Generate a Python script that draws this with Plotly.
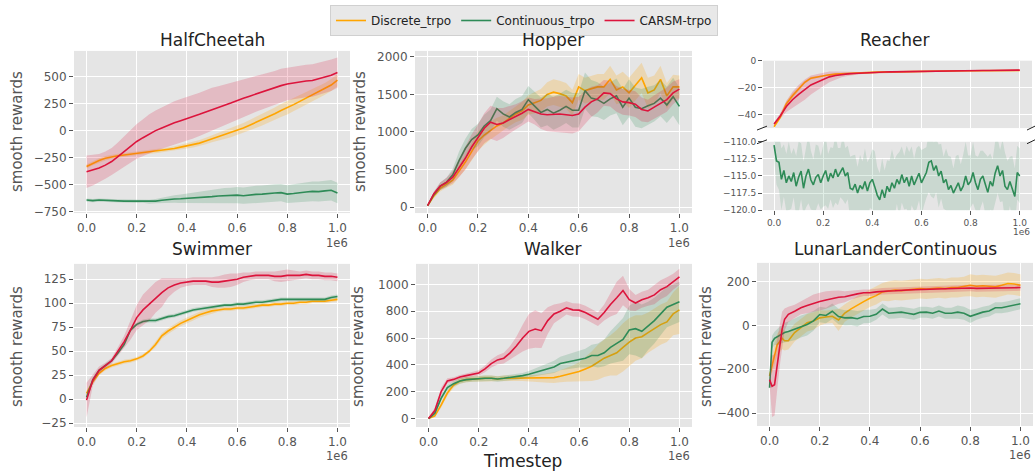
import plotly.graph_objects as go

# ---------------- data (timesteps in units of 1e6) ----------------
X41 = [0.0, 0.025, 0.05, 0.075, 0.1, 0.125, 0.15, 0.175, 0.2, 0.225, 0.25, 0.275, 0.3, 0.325,
       0.35, 0.375, 0.4, 0.425, 0.45, 0.475, 0.5, 0.525, 0.55, 0.575, 0.6, 0.625, 0.65, 0.675,
       0.7, 0.725, 0.75, 0.775, 0.8, 0.825, 0.85, 0.875, 0.9, 0.925, 0.95, 0.975, 1.0]

X101 = [0.0, 0.01, 0.02, 0.03, 0.04, 0.05, 0.06, 0.07, 0.08, 0.09, 0.1, 0.11, 0.12, 0.13, 0.14,
        0.15, 0.16, 0.17, 0.18, 0.19, 0.2, 0.21, 0.22, 0.23, 0.24, 0.25, 0.26, 0.27, 0.28, 0.29,
        0.3, 0.31, 0.32, 0.33, 0.34, 0.35, 0.36, 0.37, 0.38, 0.39, 0.4, 0.41, 0.42, 0.43, 0.44,
        0.45, 0.46, 0.47, 0.48, 0.49, 0.5, 0.51, 0.52, 0.53, 0.54, 0.55, 0.56, 0.57, 0.58, 0.59,
        0.6, 0.61, 0.62, 0.63, 0.64, 0.65, 0.66, 0.67, 0.68, 0.69, 0.7, 0.71, 0.72, 0.73, 0.74,
        0.75, 0.76, 0.77, 0.78, 0.79, 0.8, 0.81, 0.82, 0.83, 0.84, 0.85, 0.86, 0.87, 0.88, 0.89,
        0.9, 0.91, 0.92, 0.93, 0.94, 0.95, 0.96, 0.97, 0.98, 0.99, 1.0]

LL_X = [0.0, 0.01, 0.02, 0.03, 0.04, 0.05, 0.06, 0.075, 0.1, 0.125, 0.15, 0.175, 0.2, 0.225,
        0.25, 0.275, 0.3, 0.325, 0.35, 0.375, 0.4, 0.425, 0.45, 0.475, 0.5, 0.525, 0.55, 0.575,
        0.6, 0.625, 0.65, 0.675, 0.7, 0.725, 0.75, 0.775, 0.8, 0.825, 0.85, 0.875, 0.9, 0.925,
        0.95, 0.975, 1.0]

SERIES_NAMES = ["Discrete_trpo", "Continuous_trpo", "CARSM-trpo"]
COLORS = ["#FFA500", "#2E8B57", "#DC143C"]
BANDS = ["rgba(255,165,0,0.22)", "rgba(46,139,87,0.2)", "rgba(220,20,60,0.2)"]

# HalfCheetah
HC_disc = [-330, -300, -275, -255, -240, -232, -225, -218, -210, -202, -195, -190, -185, -175,
           -165, -152, -140, -130, -115, -95, -75, -55, -40, -20, 0, 25, 50, 75, 100, 125, 155,
           185, 210, 240, 270, 300, 325, 355, 385, 420, 465]
HC_disc_sd = [20, 20, 20, 20, 18, 18, 18, 18, 18, 18, 18, 18, 20, 20, 22, 22, 25, 25, 28, 30,
              32, 35, 38, 40, 42, 45, 48, 50, 52, 55, 58, 60, 62, 62, 62, 60, 58, 55, 55, 55, 55]
HC_cont = [-640, -645, -640, -645, -645, -648, -650, -650, -652, -650, -655, -650, -642, -635,
           -630, -628, -625, -620, -618, -612, -608, -602, -600, -598, -595, -600, -592, -588,
           -585, -578, -575, -572, -585, -580, -570, -565, -560, -562, -555, -550, -575]
HC_cont_sd = [15, 15, 15, 15, 15, 15, 15, 15, 15, 15, 18, 20, 25, 30, 35, 40, 45, 50, 55, 60,
              65, 68, 70, 72, 75, 75, 78, 80, 80, 80, 80, 80, 82, 85, 85, 88, 90, 92, 95, 95, 95]
HC_carsm = [-380, -365, -345, -318, -285, -240, -195, -145, -100, -65, -30, 0, 25, 50, 72, 92,
            110, 128, 150, 172, 195, 215, 235, 255, 280, 298, 318, 338, 355, 375, 395, 415, 430,
            440, 450, 458, 462, 475, 495, 510, 535]
HC_carsm_sd = [150, 140, 130, 125, 125, 130, 140, 150, 160, 170, 180, 185, 190, 195, 200, 200,
               200, 200, 200, 200, 200, 195, 190, 185, 180, 175, 170, 165, 160, 155, 155, 155,
               150, 150, 150, 150, 150, 150, 150, 145, 140]

# Hopper
HOP_disc = [20, 150, 250, 310, 360, 480, 600, 740, 880, 960, 1020, 1080, 1120, 1180, 1240, 1280,
            1360, 1390, 1420, 1500, 1530, 1510, 1480, 1390, 1600, 1550, 1570, 1600, 1600, 1700,
            1560, 1600, 1520, 1620, 1720, 1520, 1560, 1700, 1480, 1600, 1600]
HOP_disc_sd = [10, 30, 40, 50, 60, 80, 100, 120, 130, 130, 120, 110, 100, 100, 110, 120, 130,
               140, 150, 160, 170, 170, 170, 170, 170, 170, 170, 170, 170, 180, 190, 200, 200,
               200, 200, 200, 190, 180, 170, 160, 150]
HOP_cont = [20, 170, 280, 330, 430, 620, 780, 900, 960, 1080, 1150, 1310, 1240, 1200, 1260, 1300,
            1430, 1350, 1260, 1300, 1250, 1290, 1340, 1290, 1290, 1550, 1450, 1430, 1380, 1440,
            1480, 1330, 1450, 1330, 1310, 1350, 1380, 1450, 1360, 1470, 1340]
HOP_cont_sd = [10, 30, 50, 60, 80, 120, 130, 140, 150, 150, 150, 160, 170, 170, 180, 180, 180,
               190, 200, 210, 220, 220, 220, 230, 230, 240, 240, 230, 220, 220, 230, 240, 250,
               260, 260, 250, 240, 240, 240, 250, 250]
HOP_carsm = [20, 180, 280, 330, 400, 520, 650, 800, 920, 1050, 1130, 1100, 1120, 1160, 1200,
             1250, 1300, 1270, 1240, 1230, 1240, 1240, 1230, 1220, 1240, 1330, 1400, 1440, 1520,
             1510, 1440, 1400, 1390, 1370, 1300, 1280, 1330, 1380, 1430, 1520, 1570]
HOP_carsm_sd = [10, 30, 50, 60, 80, 120, 150, 170, 180, 200, 220, 220, 200, 180, 170, 160, 160,
                170, 200, 220, 230, 240, 240, 240, 230, 220, 200, 180, 170, 170, 170, 170, 170,
                170, 160, 150, 160, 160, 160, 150, 130]

# Reacher (upper panel: discrete & CARSM; lower panel: continuous)
REA_disc = [-49, -42, -32, -26, -21, -16, -13, -12, -11, -10.5, -10, -9.7, -9.5, -9.3, -9.1,
            -8.9, -8.7, -8.5, -8.4, -8.3, -8.2, -8.1, -8.0, -8.0, -7.9, -7.8, -7.8, -7.7, -7.7,
            -7.6, -7.6, -7.5, -7.5, -7.5, -7.4, -7.4, -7.4, -7.3, -7.3, -7.3, -7.3]
REA_disc_sd = [1, 1.5, 2, 2, 1.5, 1.2, 1, 0.8, 0.6, 0.5, 0.5, 0.5, 0.5, 0.5, 0.5, 0.5, 0.5, 0.5,
               0.5, 0.5, 0.5, 0.5, 0.5, 0.5, 0.5, 0.5, 0.5, 0.5, 0.5, 0.5, 0.5, 0.5, 0.5, 0.5,
               0.5, 0.5, 0.5, 0.5, 0.5, 0.5, 0.5]
REA_carsm = [-47, -41, -34, -29, -25, -21.5, -18, -16, -14, -12, -11, -10.2, -9.8, -9.5, -9.2,
             -9.0, -8.7, -8.5, -8.4, -8.3, -8.2, -8.1, -8.0, -8.0, -7.9, -7.8, -7.8, -7.7, -7.6,
             -7.6, -7.5, -7.5, -7.4, -7.4, -7.3, -7.3, -7.2, -7.2, -7.1, -7.1, -7.0]
REA_carsm_sd = [1, 2, 4, 6, 7, 7.5, 7, 6, 5, 4, 3, 2, 1.5, 1, 0.8, 0.7, 0.6, 0.5, 0.5, 0.5, 0.5,
                0.5, 0.5, 0.5, 0.5, 0.5, 0.5, 0.5, 0.5, 0.5, 0.5, 0.5, 0.5, 0.5, 0.5, 0.5, 0.5,
                0.5, 0.5, 0.5, 0.5]
REA_cont = [-110.5, -112.8, -113.0, -115.5, -114.2, -116.0, -115.0, -115.8, -114.5, -116.5,
            -115.2, -114.3, -116.8, -115.0, -114.0, -115.6, -116.3, -115.2, -114.8, -116.0,
            -115.0, -114.2, -115.8, -114.6, -115.3, -114.0, -115.1, -114.5, -113.8, -115.0,
            -114.5, -116.8, -117.0, -116.2, -117.5, -116.4, -116.9, -115.8, -117.2, -116.0,
            -115.5, -116.6, -117.8, -118.5, -117.0, -118.2, -116.5, -117.3, -116.0, -116.8,
            -115.5, -116.2, -114.8, -116.0, -115.2, -116.5, -115.0, -116.3, -115.4, -114.6,
            -116.0, -115.2, -114.5, -113.0, -112.8, -114.2, -113.5, -115.0, -114.3, -116.0,
            -115.5, -117.0, -116.4, -117.5, -116.8, -116.0, -117.2, -116.5, -115.0, -116.3,
            -115.8, -114.5, -116.0, -117.0, -115.5, -115.0, -116.2, -117.4, -115.8, -116.5,
            -114.6, -113.5, -115.0, -114.2, -116.5, -117.0, -115.8, -116.8, -118.0, -114.5,
            -115.0]
REA_cont_sd = [2.0, 3.5, 4.0, 4.5, 3.8, 4.2, 5.0, 4.0, 3.6, 4.4, 5.2, 4.1, 3.9, 4.6, 5.0, 4.3,
               3.7, 4.8, 4.2, 3.9, 4.5, 5.1, 4.0, 3.8, 4.4, 4.9, 4.2, 3.6, 4.7, 4.1, 3.9, 4.6,
               5.0, 4.3, 3.8, 4.5, 4.0, 4.8, 4.2, 3.7, 4.4, 5.2, 4.1, 3.9, 4.6, 4.0, 3.8, 4.5,
               4.9, 4.2, 3.6, 4.7, 4.1, 3.9, 4.6, 5.0, 4.3, 3.8, 4.5, 4.0, 4.8, 4.2, 3.7, 4.4,
               5.2, 4.1, 3.9, 4.6, 4.0, 3.8, 4.5, 4.9, 4.2, 3.6, 4.7, 4.1, 3.9, 4.6, 5.0, 4.3,
               3.8, 4.5, 4.0, 4.8, 4.2, 3.7, 4.4, 5.2, 4.1, 3.9, 4.6, 4.0, 3.8, 4.5, 4.9, 4.2,
               3.6, 4.7, 4.1, 3.9, 4.0]

# Swimmer
SW_disc = [6, 18, 27, 32, 35, 37, 39, 40, 42, 45, 50, 57, 66, 71, 75, 79, 82, 85, 88, 90, 92,
           93, 94, 94, 95, 95, 96, 97, 98, 98, 99, 99, 100, 100, 101, 101, 102, 102, 102, 103, 104]
SW_disc_sd = [3, 2, 2, 2, 2, 2, 2, 2, 2, 2, 2, 3, 3, 3, 3, 3, 3, 3, 3, 3, 3, 2, 2, 2, 2, 2, 2,
              2, 2, 2, 2, 2, 2, 2, 2, 2, 2, 2, 2, 2, 2]
SW_cont = [2, 20, 30, 35, 40, 48, 57, 72, 78, 81, 82, 82, 84, 86, 87, 89, 91, 93, 94, 95, 96, 97,
           98, 98, 99, 99, 100, 101, 101, 102, 103, 104, 104, 104, 104, 104, 104, 104, 104, 106,
           107]
SW_cont_sd = [4, 3, 2, 2, 2, 2, 2, 2, 2, 2, 2, 2, 2, 2, 2, 2, 2, 2, 2, 2, 2, 2, 2, 2, 2, 2, 2,
              2, 2, 2, 2, 2, 2, 2, 2, 2, 2, 2, 2, 2, 2]
SW_carsm = [-1, 20, 30, 35, 40, 50, 60, 72, 85, 93, 99, 106, 111, 116, 119, 121, 122, 123, 123,
            123, 122, 122, 123, 124, 125, 127, 128, 129, 129, 129, 128, 128, 129, 129, 129, 130,
            129, 129, 128, 128, 127]
SW_carsm_sd = [18, 6, 4, 3, 3, 4, 6, 10, 13, 16, 17, 16, 15, 10, 7, 5, 4, 4, 4, 4, 5, 6, 7, 7,
               6, 5, 4, 4, 4, 4, 5, 6, 6, 5, 4, 4, 4, 4, 4, 4, 4]

# Walker
WK_disc = [0, 20, 100, 190, 250, 280, 290, 295, 300, 300, 300, 295, 300, 300, 300, 300, 300,
           300, 300, 302, 305, 315, 325, 335, 350, 370, 390, 420, 450, 470, 490, 530, 570, 600,
           610, 640, 670, 700, 720, 780, 810]
WK_disc_sd = [3, 10, 20, 20, 20, 20, 20, 20, 20, 20, 20, 20, 20, 20, 20, 20, 20, 25, 30, 35, 40,
              45, 50, 60, 70, 90, 110, 130, 140, 150, 170, 180, 180, 170, 160, 150, 150, 150,
              150, 160, 180]
WK_cont = [0, 40, 150, 230, 260, 280, 290, 295, 300, 300, 300, 295, 300, 305, 310, 320, 330, 345,
           360, 375, 385, 410, 420, 430, 440, 450, 470, 470, 490, 530, 560, 590, 660, 670, 650,
           690, 730, 780, 830, 850, 870]
WK_cont_sd = [3, 15, 20, 20, 20, 20, 20, 20, 20, 20, 20, 20, 20, 20, 20, 20, 25, 30, 35, 40, 45,
              50, 55, 55, 60, 70, 80, 90, 100, 120, 140, 160, 180, 200, 200, 180, 170, 160, 150,
              150, 150]
WK_carsm = [0, 60, 200, 280, 292, 310, 320, 330, 340, 370, 410, 437, 450, 490, 540, 600, 650,
            667, 655, 730, 780, 800, 825, 810, 808, 790, 765, 740, 790, 850, 900, 954, 886, 861,
            886, 900, 922, 960, 983, 1020, 1056]
WK_carsm_sd = [5, 20, 30, 20, 15, 15, 15, 18, 20, 25, 30, 35, 40, 50, 70, 100, 130, 140, 130,
               100, 70, 60, 50, 50, 50, 50, 50, 50, 60, 90, 120, 110, 80, 60, 60, 60, 70, 70, 70,
               60, 60]

# LunarLanderContinuous
LL_disc = [-230, -180, -130, -90, -75, -59, -70, -70, -33, -10, 12, 20, 34, 38, 41, 24, 56, 75,
           93, 108, 123, 135, 152, 155, 160, 158, 160, 163, 167, 165, 168, 170, 167, 172, 172,
           176, 182, 178, 180, 178, 175, 182, 190, 188, 182]
LL_disc_sd = [20, 40, 50, 50, 50, 50, 45, 40, 40, 40, 40, 40, 35, 30, 30, 50, 40, 40, 40, 40,
              40, 40, 40, 45, 45, 45, 45, 45, 45, 45, 45, 45, 45, 45, 45, 45, 50, 50, 50, 50, 50,
              50, 50, 50, 50]
LL_cont = [-284, -77, -59, -52, -47, -40, -33, -28, -18, -5, 4, 20, 49, 45, 64, 40, 34, 35, 30,
           40, 41, 50, 74, 55, 56, 60, 55, 50, 59, 60, 55, 65, 55, 55, 60, 55, 41, 50, 60, 65,
           80, 80, 85, 90, 98]
LL_cont_sd = [15, 30, 30, 35, 40, 40, 45, 45, 50, 50, 50, 45, 35, 35, 35, 35, 35, 35, 35, 30,
              30, 25, 25, 25, 25, 25, 25, 25, 25, 25, 25, 25, 25, 25, 30, 30, 30, 25, 25, 25, 25,
              25, 25, 25, 25]
LL_carsm = [-247, -277, -270, -180, -92, -18, 27, 50, 64, 80, 90, 100, 108, 115, 122, 128, 130,
            138, 143, 148, 148, 152, 155, 156, 157, 160, 161, 162, 163, 164, 165, 165, 166, 167,
            167, 168, 170, 168, 168, 169, 170, 170, 170, 171, 172]
LL_carsm_sd = [20, 140, 140, 120, 100, 80, 50, 35, 30, 30, 35, 40, 40, 40, 35, 30, 25, 20, 18,
               15, 15, 15, 15, 15, 15, 15, 15, 15, 15, 15, 15, 15, 15, 15, 15, 15, 15, 15, 15, 15,
               15, 15, 15, 15, 15]

X_TICKS = [0.0, 0.2, 0.4, 0.6, 0.8, 1.0]
HC_TICKS = [-750, -500, -250, 0, 250, 500]
HOP_TICKS = [0, 500, 1000, 1500, 2000]
REA_TOP_TICKS = [-40, -20, 0]
REA_BOT_TICKS = [-120, -117.5, -115, -112.5, -110]
SW_TICKS = [-25, 0, 25, 50, 75, 100, 125]
WK_TICKS = [0, 200, 400, 600, 800, 1000]
LL_TICKS = [-400, -200, 0, 200]

# ---------------- figure ----------------
W, H = 1035, 475
FONT = "DejaVu Sans"
TICKC = "#555555"


def fx(p):
    return p / W


def fy(p):
    return 1 - p / H


fig = go.Figure()


def add_series(xs, mean, sd, idx, ax, ay, legend=False, band=None):
    up = [m + s for m, s in zip(mean, sd)]
    lo = [m - s for m, s in zip(mean, sd)]
    fig.add_trace(go.Scatter(
        x=list(xs) + list(xs)[::-1], y=up + lo[::-1], fill="toself",
        fillcolor=band or BANDS[idx], line=dict(width=0), mode="lines",
        hoverinfo="skip", showlegend=False, xaxis=ax, yaxis=ay))
    fig.add_trace(go.Scatter(
        x=xs, y=mean, mode="lines", name=SERIES_NAMES[idx],
        line=dict(color=COLORS[idx], width=1.6), showlegend=legend,
        xaxis=ax, yaxis=ay))


# HalfCheetah
add_series(X41, HC_disc, HC_disc_sd, 0, "x", "y", legend=True)
add_series(X41, HC_cont, HC_cont_sd, 1, "x", "y", legend=True)
add_series(X41, HC_carsm, HC_carsm_sd, 2, "x", "y", legend=True)
# Hopper
add_series(X41, HOP_disc, HOP_disc_sd, 0, "x2", "y2")
add_series(X41, HOP_cont, HOP_cont_sd, 1, "x2", "y2")
add_series(X41, HOP_carsm, HOP_carsm_sd, 2, "x2", "y2")
# Reacher
add_series(X41, REA_disc, REA_disc_sd, 0, "x3", "y3")
add_series(X41, REA_carsm, REA_carsm_sd, 2, "x3", "y3")
add_series(X101, REA_cont, REA_cont_sd, 1, "x4", "y4", band="rgba(46,139,87,0.15)")
# Swimmer
add_series(X41, SW_disc, SW_disc_sd, 0, "x5", "y5")
add_series(X41, SW_cont, SW_cont_sd, 1, "x5", "y5")
add_series(X41, SW_carsm, SW_carsm_sd, 2, "x5", "y5")
# Walker
add_series(X41, WK_disc, WK_disc_sd, 0, "x6", "y6")
add_series(X41, WK_cont, WK_cont_sd, 1, "x6", "y6")
add_series(X41, WK_carsm, WK_carsm_sd, 2, "x6", "y6")
# LunarLander
add_series(LL_X, LL_disc, LL_disc_sd, 0, "x7", "y7")
add_series(LL_X, LL_cont, LL_cont_sd, 1, "x7", "y7")
add_series(LL_X, LL_carsm, LL_carsm_sd, 2, "x7", "y7")


def xax(l, r, anchor, labels=True, size=12, rng=(-0.05, 1.05)):
    return dict(domain=[fx(l), fx(r)], anchor=anchor, range=list(rng), tickvals=X_TICKS,
                tickformat=".1f", ticks="outside" if labels else "", ticklen=4,
                tickcolor=TICKC, tickfont=dict(family=FONT, size=size, color=TICKC),
                showticklabels=labels, showgrid=True, gridcolor="white", gridwidth=1,
                zeroline=False, showline=False)


def yax(t, b, anchor, rng, ticks, size=12, fmt=None):
    d = dict(domain=[fy(b), fy(t)], anchor=anchor, range=list(rng), tickvals=ticks,
             ticks="outside", ticklen=4, tickcolor=TICKC,
             tickfont=dict(family=FONT, size=size, color=TICKC), showgrid=True,
             gridcolor="white", gridwidth=1, zeroline=False, showline=False)
    if fmt:
        d["tickformat"] = fmt
    return d


layout = dict(
    width=W, height=H, margin=dict(l=0, r=0, t=0, b=0),
    paper_bgcolor="white", plot_bgcolor="#E5E5E5",
    font=dict(family=FONT, color="#222222"),
    xaxis=xax(74, 350, "y"),
    yaxis=yax(47, 213, "x", (-760, 735), HC_TICKS),
    xaxis2=xax(415, 692, "y2"),
    yaxis2=yax(47, 213, "x2", (-78, 2078), HOP_TICKS),
    xaxis3=xax(763, 1032, "y3", labels=False, rng=(-0.045, 1.05)),
    yaxis3=yax(57, 126, "x3", (-50, 0), REA_TOP_TICKS, size=9),
    xaxis4=xax(763, 1032, "y4", size=9, rng=(-0.045, 1.05)),
    yaxis4=yax(140, 210, "x4", (-120, -110), REA_BOT_TICKS, size=9, fmt=".1f"),
    xaxis5=xax(74, 350, "y5"),
    yaxis5=yax(265, 432, "x5", (-29, 141), SW_TICKS),
    xaxis6=xax(416, 692, "y6"),
    yaxis6=yax(265, 432, "x6", (-63, 1153), WK_TICKS),
    xaxis7=xax(757, 1033, "y7"),
    yaxis7=yax(264, 431, "x7", (-458, 284), LL_TICKS),
    legend=dict(orientation="h", x=fx(524), xanchor="center", y=1.0, yanchor="top",
                bgcolor="#E8E8E8", bordercolor="#D0D0D0", borderwidth=1,
                font=dict(family=FONT, size=12, color="#222222"),
                itemwidth=30, tracegroupgap=0),
)
fig.update_layout(**layout)

annotations = []
titles = [("HalfCheetah", 212, 36), ("Hopper", 553, 36), ("Reacher", 895, 36),
          ("Swimmer", 212, 250), ("Walker", 553, 250), ("LunarLanderContinuous", 895, 250)]
for txt, cx, cy in titles:
    annotations.append(dict(text=txt, x=fx(cx), y=fy(cy), xref="paper", yref="paper",
                            xanchor="center", yanchor="middle", showarrow=False,
                            font=dict(family=FONT, size=17, color="#222222")))
for cx, cy in [(17, 130), (360, 130), (17, 350), (358, 350), (706, 350)]:
    annotations.append(dict(text="smooth rewards", x=fx(cx), y=fy(cy), xref="paper",
                            yref="paper", xanchor="center", yanchor="middle", textangle=-90,
                            showarrow=False, font=dict(family=FONT, size=15, color="#555555")))
for rx, cy, sz in [(350, 244, 11.5), (692, 244, 11.5), (1032, 232, 9), (350, 462, 11.5),
                   (692, 462, 11.5), (1033, 461, 11.5)]:
    annotations.append(dict(text="1e6", x=fx(rx), y=fy(cy), xref="paper", yref="paper",
                            xanchor="right", yanchor="middle", showarrow=False,
                            font=dict(family=FONT, size=sz, color="#555555")))
annotations.append(dict(text="Timestep", x=fx(522), y=fy(467), xref="paper", yref="paper",
                        xanchor="center", yanchor="middle", showarrow=False,
                        font=dict(family=FONT, size=17, color="#222222")))
fig.update_layout(annotations=annotations)

# broken-axis marks on Reacher
shapes = []
for (x0, y0, x1, y1) in [(757, 128, 767, 124), (757, 142, 767, 138),
                         (1027, 128, 1035, 124), (1027, 142, 1035, 138)]:
    shapes.append(dict(type="line", xref="paper", yref="paper", x0=fx(x0), y0=fy(y0),
                       x1=fx(x1), y1=fy(y1), line=dict(color="#222222", width=1)))
fig.update_layout(shapes=shapes)

fig.write_html(
    "out.html",
    config={"displayModeBar": False},
    post_script="document.body.style.margin='0';document.body.style.overflow='hidden';",
)
